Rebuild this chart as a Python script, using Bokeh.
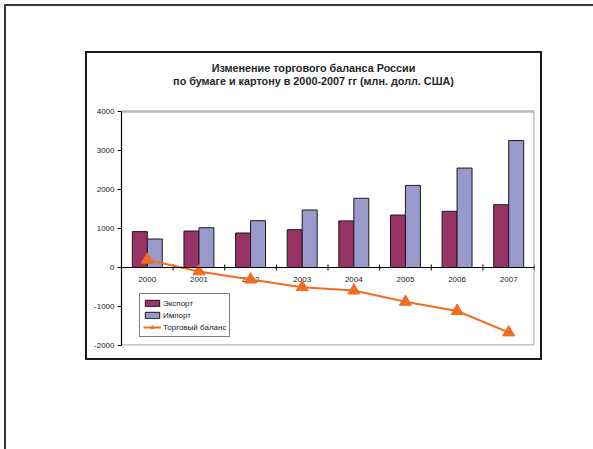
from bokeh.plotting import figure
from bokeh.models import (ColumnDataSource, FactorRange, Range1d, FixedTicker, Span,
                          Legend, LegendItem, Label, InlineStyleSheet, NumeralTickFormatter)
from bokeh.transform import dodge
from bokeh.core.properties import value
from bokeh.embed import file_html
from bokeh.resources import INLINE

years = ["2000", "2001", "2002", "2003", "2004", "2005", "2006", "2007"]
export = [920, 935, 885, 970, 1195, 1345, 1440, 1610]
imports = [730, 1020, 1200, 1475, 1775, 2105, 2550, 3255]
balance = [200, -100, -310, -505, -590, -880, -1115, -1665]
y_ticks = [-2000, -1000, 0, 1000, 2000, 3000, 4000]
title_lines = ["Изменение торгового баланса России",
               "по бумаге и картону в 2000-2007 гг (млн. долл. США)"]
series_names = ["Экспорт", "Импорт", "Торговый баланс"]

FONT = "Liberation Sans"
W, H = 593, 449
FL, FR, FT, FB = 121, 534, 57, 345   # frame edges on the page
PT = 111                             # top of the plot area (value 4000)

ymin, ymax = y_ticks[0], y_ticks[-1]
y_end = ymax + (PT - FT) * (ymax - ymin) / (FB - PT)
n = len(years)


def sx(px):
    return px - FL


def sy(py):
    return FB - py


src = ColumnDataSource(dict(year=years, export=export, imports=imports,
                            balance=balance, zero=[0] * n))

css = InlineStyleSheet(css="""
:host {
  background-image:
    linear-gradient(#3a3a3a, #3a3a3a), linear-gradient(#3a3a3a, #3a3a3a),
    linear-gradient(#1a1a1a, #1a1a1a), linear-gradient(#1a1a1a, #1a1a1a),
    linear-gradient(#1a1a1a, #1a1a1a), linear-gradient(#1a1a1a, #1a1a1a);
  background-size: 589px 2px, 2px 445px, 457px 2px, 457px 2px, 2px 309px, 2px 309px;
  background-position: 4px 4px, 4px 4px, 85px 51px, 85px 358px, 85px 51px, 540px 51px;
  background-repeat: no-repeat;
}
""")

p = figure(width=W, height=H, output_backend="svg", toolbar_location=None,
           x_range=FactorRange(*years), y_range=Range1d(ymin, y_end),
           min_border_left=FL, min_border_right=W - FR, min_border_top=FT,
           min_border_bottom=H - FB, stylesheets=[css])
p.xaxis.visible = False
p.xgrid.visible = False
p.ygrid.visible = False
p.outline_line_color = None
p.background_fill_color = None
p.border_fill_color = None

ya = p.yaxis[0]
ya.ticker = FixedTicker(ticks=y_ticks)
ya.formatter = NumeralTickFormatter(format="0")
ya.bounds = (ymin, ymax)
ya.major_label_text_font = FONT
ya.major_label_text_font_size = "8px"
ya.major_label_text_color = "#222222"
ya.major_tick_out = 4
ya.major_tick_in = 0
ya.minor_tick_line_color = None
ya.axis_line_color = "black"
ya.axis_line_width = 1.2
ya.major_tick_line_color = "black"
ya.major_label_standoff = 3

# plot-area border (light grey): top, right and bottom edges
p.line(x=[0, n, n, 0], y=[ymax, ymax, ymin, ymin], line_color="#B8B8B8",
       line_width=2.5)

r_exp = p.vbar(x=dodge("year", -0.145, range=p.x_range), top="export", width=0.29,
               source=src, fill_color="#993366", line_color="#1a1a1a", line_width=1)
r_imp = p.vbar(x=dodge("year", 0.145, range=p.x_range), top="imports", width=0.29,
               source=src, fill_color="#9999CC", line_color="#1a1a1a", line_width=1)

p.add_layout(Span(location=0, dimension="width", line_color="black", line_width=1.2))

# category boundary tick marks on the zero line
bounds = ColumnDataSource(dict(x=[float(i) for i in range(1, n + 1)], y=[0] * n))
p.scatter(x="x", y="y", source=bounds, marker="dash", angle=1.5708, size=6,
          line_color="black", line_width=1)

p.text(x="year", y="zero", text="year", source=src, y_offset=12,
       text_align="center", text_baseline="middle", text_font=value(FONT),
       text_font_size="8px", text_color="#222222")

r_line = p.line(x="year", y="balance", source=src, line_color="#F36C21", line_width=2)
r_tri = p.scatter(x="year", y="balance", source=src, marker="triangle", size=12,
                  fill_color="#F36C21", line_color="#F36C21")

legend = Legend(items=[LegendItem(label=series_names[0], renderers=[r_exp]),
                       LegendItem(label=series_names[1], renderers=[r_imp]),
                       LegendItem(label=series_names[2], renderers=[r_line, r_tri])],
                location=(sx(139), sy(337)))
legend.label_text_font = FONT
legend.label_text_font_size = "8px"
legend.label_text_color = "#222222"
legend.label_height = 12
legend.glyph_height = 8
legend.glyph_width = 18
legend.label_standoff = 2
legend.spacing = 0
legend.padding = 3
legend.margin = 0
legend.border_line_color = "black"
legend.border_line_width = 1
legend.background_fill_color = "white"
legend.background_fill_alpha = 1
p.add_layout(legend)

for i, t in enumerate(title_lines):
    p.add_layout(Label(x=sx(313), y=sy(67 + 13 * i), x_units="screen", y_units="screen",
                       text=t, text_align="center", text_baseline="middle",
                       text_font=FONT, text_font_size="10.8px", text_font_style="bold",
                       text_color="#262626"))

open("out.html", "w").write(file_html(p, INLINE))
